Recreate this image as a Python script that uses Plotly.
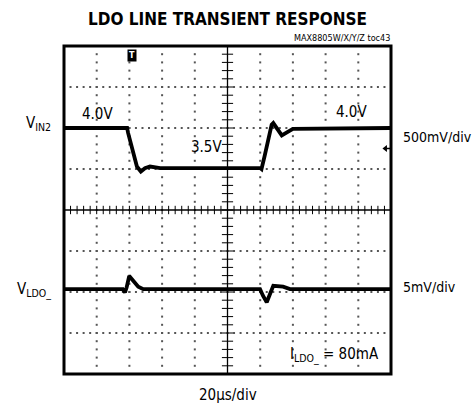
import plotly.graph_objects as go

# Oscilloscope settings
TIME_PER_DIV_US = 20.0
VIN2_V_PER_DIV = 0.5
VIN2_REF_V = 4.0
VIN2_REF_DIV = 6.0
VLDO_MV_PER_DIV = 5.0
VLDO_REF_DIV = 2.07
H_DIVS = 10
V_DIVS = 8

# Input voltage step (time in us, voltage in V)
vin2_t = [0, 38.6, 39.2, 41.0, 42.8, 44.6, 47.0, 49.5, 52.6, 58.8,
          120.2, 120.8, 122.6, 124.8, 127.0, 128.0, 130.2, 133.2, 136.6, 140.0, 200]
vin2_v = [4.00, 4.00, 3.94, 3.79, 3.67, 3.53, 3.47, 3.51, 3.53, 3.51,
          3.51, 3.50, 3.65, 3.85, 4.04, 4.06, 4.00, 3.91, 3.95, 3.99, 4.00]

# LDO output deviation (time in us, deviation in mV)
vldo_t = [0, 36.0, 37.3, 38.3, 39.9, 42.4, 45.4, 48.5,
          119.9, 121.7, 124.0, 126.0, 128.0, 134.0, 138.2, 200]
vldo_mv = [0, 0, -0.4, 0.2, 1.6, 1.0, 0.3, 0,
           0, -0.8, -1.6, -0.6, 0.4, 0.3, 0, 0]

# Trigger position and level
TRIGGER_TIME_US = 41.4
TRIGGER_LEVEL_V = 3.75


def t_div(t):
    return [v / TIME_PER_DIV_US for v in t]


def vin2_div(v):
    return [VIN2_REF_DIV + (x - VIN2_REF_V) / VIN2_V_PER_DIV for x in v]


def vldo_div(mv):
    return [VLDO_REF_DIV + x / VLDO_MV_PER_DIV for x in mv]


fig = go.Figure()

DOT = "#555555"
FONT = "DejaVu Sans Condensed, Roboto, sans-serif"
LBL = 15
SIDE = 14

# dotted graticule
gx, gy = [], []
for i in range(1, H_DIVS):
    if i == H_DIVS // 2:
        continue
    for k in range(V_DIVS * 5 + 1):
        gx.append(i)
        gy.append(k * 0.2)
for j in range(1, V_DIVS):
    if j == V_DIVS // 2:
        continue
    for k in range(H_DIVS * 5 + 1):
        gx.append(k * 0.2)
        gy.append(j)
fig.add_trace(go.Scatter(x=gx, y=gy, mode="markers", hoverinfo="skip",
                         marker=dict(symbol="square", size=2, color=DOT, line=dict(width=0))))

# center cross with minor ticks
fig.add_trace(go.Scatter(x=[0, H_DIVS], y=[V_DIVS / 2] * 2, mode="lines",
                         line=dict(color="black", width=1.3), hoverinfo="skip"))
fig.add_trace(go.Scatter(x=[H_DIVS / 2] * 2, y=[0, V_DIVS], mode="lines",
                         line=dict(color="black", width=1.3), hoverinfo="skip"))
fig.add_trace(go.Scatter(x=[k * 0.2 for k in range(H_DIVS * 5 + 1)],
                         y=[V_DIVS / 2] * (H_DIVS * 5 + 1), mode="markers", hoverinfo="skip",
                         marker=dict(symbol="line-ns-open", size=6, color="black",
                                     line=dict(width=1, color="black"))))
fig.add_trace(go.Scatter(x=[H_DIVS / 2] * (V_DIVS * 5 + 1),
                         y=[k * 0.2 for k in range(V_DIVS * 5 + 1)], mode="markers", hoverinfo="skip",
                         marker=dict(symbol="line-ew-open", size=8, color="black",
                                     line=dict(width=1, color="black"))))

# traces
fig.add_trace(go.Scatter(x=t_div(vin2_t), y=vin2_div(vin2_v), mode="lines",
                         line=dict(color="black", width=3.8), name="VIN2"))
fig.add_trace(go.Scatter(x=t_div(vldo_t), y=vldo_div(vldo_mv), mode="lines",
                         line=dict(color="black", width=3.8), name="VLDO"))

# trigger level arrow on the right edge
lvl = vin2_div([TRIGGER_LEVEL_V])[0]
fig.add_trace(go.Scatter(x=[H_DIVS - 0.15, H_DIVS], y=[lvl, lvl], mode="lines",
                         line=dict(color="black", width=1.5), hoverinfo="skip"))
fig.add_trace(go.Scatter(x=[H_DIVS - 0.17], y=[lvl], mode="markers", hoverinfo="skip",
                         marker=dict(symbol="triangle-left", size=6, color="black")))

# frame
fig.add_shape(type="rect", xref="paper", yref="paper", x0=0, y0=0, x1=1, y1=1,
              line=dict(color="black", width=3))

ann = []
# trigger position marker
ann.append(dict(x=TRIGGER_TIME_US / TIME_PER_DIV_US, y=7.76, xref="x", yref="y",
                text="<b>T</b>", showarrow=False, bgcolor="black", borderpad=1,
                font=dict(family="DejaVu Sans", size=8, color="white")))
ann.append(dict(x=1.02, y=6.34, xref="x", yref="y", text="4.0V", showarrow=False,
                font=dict(family=FONT, size=LBL, color="black")))
ann.append(dict(x=4.37, y=5.54, xref="x", yref="y", text="3.5V", showarrow=False,
                font=dict(family=FONT, size=LBL, color="black")))
ann.append(dict(x=8.78, y=6.39, xref="x", yref="y", text="4.0V", showarrow=False,
                font=dict(family=FONT, size=LBL, color="black")))
ann.append(dict(x=8.26, y=0.46, xref="x", yref="y",
                text="I<sub>LDO_</sub> = 80mA", showarrow=False,
                font=dict(family=FONT, size=LBL, color="black")))
ann.append(dict(x=-0.034, y=6.1, xref="paper", yref="y", xanchor="right",
                text="V<sub>IN2</sub>", showarrow=False,
                font=dict(family=FONT, size=LBL, color="black")))
ann.append(dict(x=-0.034, y=2.05, xref="paper", yref="y", xanchor="right",
                text="V<sub>LDO_</sub>", showarrow=False,
                font=dict(family=FONT, size=LBL, color="black")))
ann.append(dict(x=1.03, y=5.78, xref="paper", yref="y", xanchor="left",
                text="500mV/div", showarrow=False,
                font=dict(family=FONT, size=SIDE, color="black")))
ann.append(dict(x=1.03, y=2.12, xref="paper", yref="y", xanchor="left",
                text="5mV/div", showarrow=False,
                font=dict(family=FONT, size=SIDE, color="black")))
ann.append(dict(x=0.5, y=-0.065, xref="paper", yref="paper", yanchor="middle",
                text="20µs/div", showarrow=False,
                font=dict(family=FONT, size=LBL, color="black")))
ann.append(dict(x=0.5, y=1.083, xref="paper", yref="paper", yanchor="middle",
                text="<b>LDO LINE TRANSIENT RESPONSE</b>", showarrow=False,
                font=dict(family=FONT, size=17, color="black")))
ann.append(dict(x=1.003, y=1.025, xref="paper", yref="paper", xanchor="right", yanchor="middle",
                text="MAX8805W/X/Y/Z toc43", showarrow=False,
                font=dict(family=FONT, size=9, color="black")))

fig.update_layout(
    width=475, height=407,
    margin=dict(l=64, r=84, t=46, b=33),
    paper_bgcolor="white", plot_bgcolor="white",
    showlegend=False,
    annotations=ann,
    xaxis=dict(range=[0, H_DIVS], visible=False, fixedrange=True),
    yaxis=dict(range=[0, V_DIVS], visible=False, fixedrange=True),
)

fig.write_html("out.html")
